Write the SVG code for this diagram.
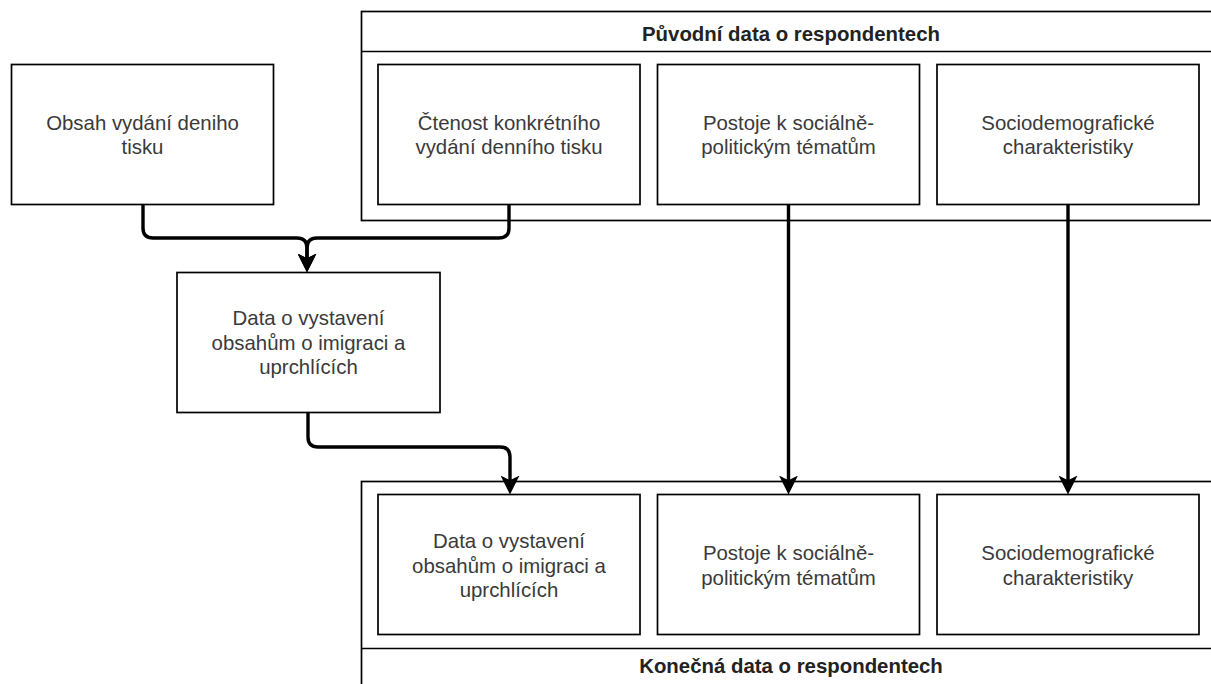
<svg xmlns="http://www.w3.org/2000/svg" width="1211" height="684" viewBox="0 0 1211 684">
  <style>
    .box { fill: #ffffff; stroke: #000000; stroke-width: 1.7; }
    .lbl { font-family: "Liberation Sans", Arial, Helvetica, sans-serif; font-size: 20.4px; fill: #3a3a3a; text-anchor: middle; }
    .ttl { font-family: "Liberation Sans", Arial, Helvetica, sans-serif; font-size: 20.4px; font-weight: bold; fill: #222222; text-anchor: middle; }
    .conn { fill: none; stroke: #000000; stroke-width: 3.4; marker-end: url(#arrow); }
  </style>
  <defs>
    <marker id="arrow" markerUnits="userSpaceOnUse" markerWidth="19" markerHeight="19" viewBox="0 0 19 19" refX="6" refY="9.5" orient="auto">
      <path d="M0,0 L19,9.5 L0,19 L4.75,9.5 Z" fill="#000000"/>
    </marker>
  </defs>
  <rect width="1211" height="684" fill="#ffffff"/>

  <g id="container-puvodni">
    <rect class="box" x="361.5" y="11.5" width="860" height="209"/>
    <line x1="361.5" y1="51.5" x2="1221.5" y2="51.5" stroke="#000" stroke-width="1.7"/>
    <text class="ttl" x="791" y="41">Původní data o respondentech</text>
  </g>

  <g id="container-konecna">
    <rect class="box" x="361.5" y="481.5" width="860" height="230"/>
    <line x1="361.5" y1="648.5" x2="1221.5" y2="648.5" stroke="#000" stroke-width="1.7"/>
    <text class="ttl" x="791" y="673">Konečná data o respondentech</text>
  </g>

  <g id="node-obsah">
    <rect class="box" x="11.5" y="64.5" width="262" height="140"/>
    <text class="lbl" x="142.5" y="129.5">Obsah vydání deniho</text>
    <text class="lbl" x="142.5" y="154">tisku</text>
  </g>

  <g id="node-ctenost">
    <rect class="box" x="378" y="64.5" width="262" height="140"/>
    <text class="lbl" x="509" y="129.5">Čtenost konkrétního</text>
    <text class="lbl" x="509" y="154">vydání denního tisku</text>
  </g>

  <g id="node-postoje-top">
    <rect class="box" x="657.5" y="64.5" width="262" height="140"/>
    <text class="lbl" x="788.5" y="129.5">Postoje k sociálně-</text>
    <text class="lbl" x="788.5" y="154">politickým tématům</text>
  </g>

  <g id="node-socio-top">
    <rect class="box" x="937" y="64.5" width="262" height="140"/>
    <text class="lbl" x="1068" y="129.5">Sociodemografické</text>
    <text class="lbl" x="1068" y="154">charakteristiky</text>
  </g>

  <g id="node-data-mid">
    <rect class="box" x="177" y="272.5" width="263" height="140"/>
    <text class="lbl" x="308.5" y="325">Data o vystavení</text>
    <text class="lbl" x="308.5" y="349.5">obsahům o imigraci a</text>
    <text class="lbl" x="308.5" y="374">uprchlících</text>
  </g>

  <g id="node-data-bottom">
    <rect class="box" x="378" y="494.5" width="262" height="140"/>
    <text class="lbl" x="509" y="548">Data o vystavení</text>
    <text class="lbl" x="509" y="572.5">obsahům o imigraci a</text>
    <text class="lbl" x="509" y="597">uprchlících</text>
  </g>

  <g id="node-postoje-bottom">
    <rect class="box" x="657.5" y="494.5" width="262" height="140"/>
    <text class="lbl" x="788.5" y="560">Postoje k sociálně-</text>
    <text class="lbl" x="788.5" y="584.5">politickým tématům</text>
  </g>

  <g id="node-socio-bottom">
    <rect class="box" x="937" y="494.5" width="262" height="140"/>
    <text class="lbl" x="1068" y="560">Sociodemografické</text>
    <text class="lbl" x="1068" y="584.5">charakteristiky</text>
  </g>

  <g id="connectors">
    <path class="conn" d="M143,204.5 V228 Q143,238 153,238 H297 Q307,238 307,248 V259.5"/>
    <path class="conn" d="M509,204.5 V228 Q509,238 499,238 H317 Q307,238 307,248 V259.5"/>
    <path class="conn" d="M308,412.5 V437 Q308,447 318,447 H500 Q510,447 510,457 V481.5"/>
    <path class="conn" d="M788.5,204.5 V481.5"/>
    <path class="conn" d="M1068,204.5 V481.5"/>
  </g>
</svg>
